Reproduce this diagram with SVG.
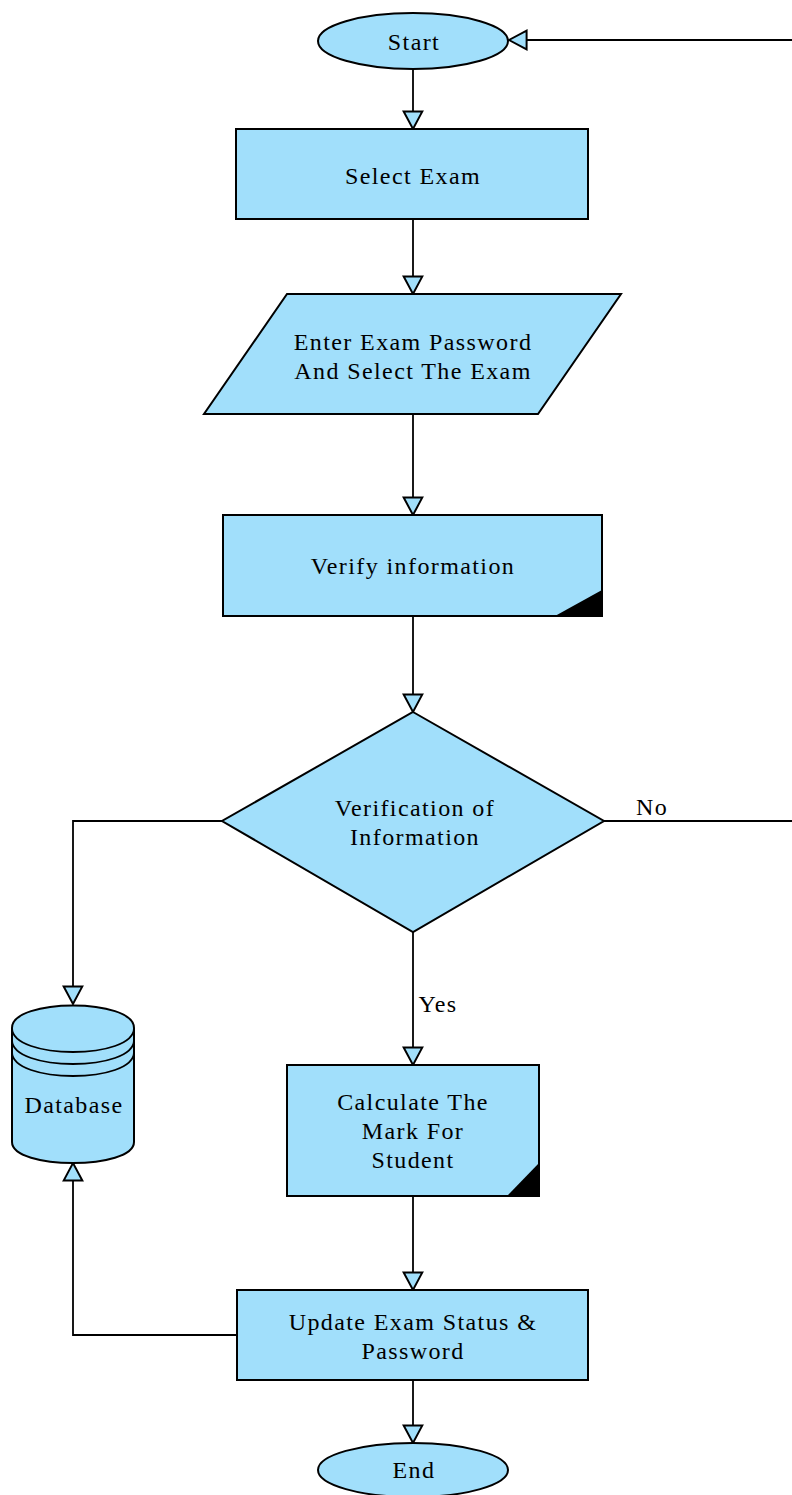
<svg xmlns="http://www.w3.org/2000/svg" width="792" height="1495" viewBox="0 0 792 1495">
<style>
.n{fill:#A1DFFB;stroke:#000;stroke-width:2}
.c{fill:none;stroke:#000;stroke-width:1.8}
.t{font-family:"Liberation Serif","Times New Roman",serif;font-size:24px;fill:#000;text-anchor:middle;letter-spacing:1.4px}
.k{fill:#000;stroke:none}
</style>
<defs>
<marker id="a" markerUnits="userSpaceOnUse" markerWidth="22" markerHeight="22" viewBox="-1 -10 19 20" refX="16" refY="0" orient="auto">
<path d="M0,-8.5 L16,0 L0,8.5 Z" fill="#A1DFFB" stroke="#000" stroke-width="1.8"/>
</marker>
</defs>
<rect width="792" height="1495" fill="#fff"/>
<g id="connectors">
<path class="c" d="M413,69 V129" marker-end="url(#a)"/>
<path class="c" d="M413,219 V294" marker-end="url(#a)"/>
<path class="c" d="M413,414 V515" marker-end="url(#a)"/>
<path class="c" d="M413,616 V712" marker-end="url(#a)"/>
<path class="c" d="M413,932 V1065" marker-end="url(#a)"/>
<path class="c" d="M413,1196 V1290" marker-end="url(#a)"/>
<path class="c" d="M413,1380 V1443" marker-end="url(#a)"/>
<path class="c" d="M222,821 H73 V1004" marker-end="url(#a)"/>
<path class="c" d="M237,1335 H73 V1163" marker-end="url(#a)"/>
<path class="c" d="M604,821 H796 V40 H509" marker-end="url(#a)"/>
<text class="t" x="438" y="1012">Yes</text>
<text class="t" x="652" y="815">No</text>
</g>
<g id="start">
<ellipse class="n" cx="413" cy="41" rx="95" ry="28"/>
<text class="t" x="414" y="50">Start</text>
</g>
<g id="select-exam">
<rect class="n" x="236" y="129" width="352" height="90"/>
<text class="t" x="413" y="184">Select Exam</text>
</g>
<g id="enter-password">
<polygon class="n" points="287,294 621,294 538,414 204,414"/>
<text class="t" x="413" y="350">Enter Exam Password</text>
<text class="t" x="413" y="379">And Select The Exam</text>
</g>
<g id="verify-info">
<rect class="n" x="223" y="515" width="379" height="101"/>
<polygon class="k" points="555,616 602,616 602,590"/>
<text class="t" x="413" y="574">Verify information</text>
</g>
<g id="decision">
<polygon class="n" points="413,712 604,821 413,932 222,821"/>
<text class="t" x="415" y="816">Verification of</text>
<text class="t" x="415" y="845">Information</text>
</g>
<g id="database">
<path class="n" d="M12,1028 C12,998 134,998 134,1028 V1142 C134,1170 12,1170 12,1142 Z"/>
<path class="c" d="M12,1028 C12,1060 134,1060 134,1028 M12,1040 C12,1072 134,1072 134,1040 M12,1052 C12,1084 134,1084 134,1052" stroke-width="2"/>
<text class="t" x="74" y="1113">Database</text>
</g>
<g id="calculate">
<rect class="n" x="287" y="1065" width="252" height="131"/>
<polygon class="k" points="507,1196 539,1196 539,1163"/>
<text class="t" x="413" y="1110">Calculate The</text>
<text class="t" x="413" y="1139">Mark For</text>
<text class="t" x="413" y="1168">Student</text>
</g>
<g id="update">
<rect class="n" x="237" y="1290" width="351" height="90"/>
<text class="t" x="413" y="1330">Update Exam Status &amp;</text>
<text class="t" x="413" y="1359">Password</text>
</g>
<g id="end">
<ellipse class="n" cx="413" cy="1470" rx="95" ry="27"/>
<text class="t" x="414" y="1478">End</text>
</g>
</svg>
